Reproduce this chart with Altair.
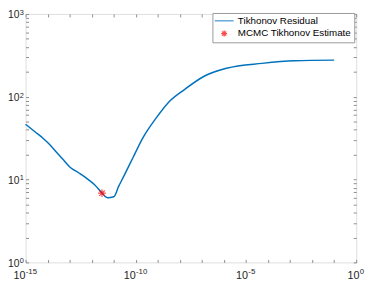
import altair as alt
import pandas as pd

# Tikhonov residual curve: log10(lambda) and residual
lam_exp = [-15.0, -14.575, -14.21, -13.92, -13.63, -13.33, -12.97, -12.60, -12.24,
           -11.87, -11.54, -11.29, -11.0, -10.78, -10.56, -10.12, -9.68, -9.09,
           -8.51, -7.78, -6.9, -5.88, -4.27, -2.81, -1.0]
residual = [46.6, 37.8, 31.6, 26.7, 21.9, 17.8, 14.0, 12.1, 10.4,
            8.67, 6.92, 6.05, 6.2, 8.28, 10.8, 18.6, 31.9, 54.8,
            86.0, 123.0, 177.0, 221.0, 253.0, 272.0, 277.0]

# MCMC Tikhonov estimate
est_exp = [-11.535]
est_res = [6.85]

series = ["Tikhonov Residual", "MCMC Tikhonov Estimate"]
colors = ["#0072BD", "#FF0000"]

x_tick_exp = list(range(-15, 1))
x_label_exp = [-15, -10, -5, 0]
y_tick_vals = [m * 10.0 ** k for k in range(0, 3) for m in range(1, 10)] + [1000.0]
y_label_exp = [0, 1, 2, 3]

LEFT, TOP = 26, 11          # plot origin inside the page
W, H = 364 - LEFT, 265 - TOP

curve = pd.DataFrame({"lam": [10.0 ** e for e in lam_exp], "res": residual, "series": series[0]})
est = pd.DataFrame({"lam": [10.0 ** e for e in est_exp], "res": est_res, "series": series[1]})

line_sym = "M-3.2,0L3.2,0"
asterisk = "M-1,0L1,0M0,-1L0,1M-0.7,-0.7L0.7,0.7M-0.7,0.7L0.7,-0.7"

xs = alt.Scale(type="log", domain=[1e-15, 1], nice=False)
ys = alt.Scale(type="log", domain=[1, 1000], nice=False)

legend = alt.Legend(title=None, orient="none", legendX=217 - LEFT, legendY=10 - TOP,
                    fillColor="white", strokeColor="#9a9a9a", padding=3,
                    labelFont="Liberation Sans", labelFontSize=10, labelColor="#000000",
                    symbolSize=36, symbolStrokeWidth=1.3, symbolOffset=4,
                    labelOffset=9, rowPadding=2)
color = alt.Color("series:N", scale=alt.Scale(domain=series, range=colors), legend=legend)
shape = alt.Shape("series:N", scale=alt.Scale(domain=series, range=[line_sym, asterisk]),
                  legend=legend)

tick_axis = dict(tickSize=3, offset=-3, domain=False, tickColor="#8a8a8a", tickWidth=1,
                 grid=False, labels=False, title=None)

xb = alt.Axis(orient="bottom", values=[10.0 ** k for k in x_tick_exp], **tick_axis)
xt = alt.Axis(orient="top", values=[10.0 ** k for k in x_tick_exp], **tick_axis)
yl = alt.Axis(orient="left", values=y_tick_vals, **tick_axis)
yr = alt.Axis(orient="right", values=y_tick_vals, **tick_axis)

line = alt.Chart(curve).mark_line(strokeWidth=1.5, interpolate="monotone").encode(
    x=alt.X("lam:Q", scale=xs, axis=xb),
    y=alt.Y("res:Q", scale=ys, axis=yl),
    color=color,
)
pts = alt.Chart(est).mark_point(size=64, filled=False, strokeWidth=1.2).encode(
    x=alt.X("lam:Q", scale=xs, axis=xt),
    y=alt.Y("res:Q", scale=ys, axis=yr),
    color=color,
    shape=shape,
)

font = "Liberation Sans"
lab_color = "#262626"
layers = [line, pts]

# x tick labels: "10" with a raised exponent, centred on the tick
for e in x_label_exp:
    exp_txt = str(e)
    w_exp = sum(2.7 if c == "-" else 4.4 for c in exp_txt)
    shift = (12.2 - w_exp) / 2 - 0.5
    df = pd.DataFrame({"v": [10.0 ** e], "base": ["10"], "exp": [exp_txt]})
    base = alt.Chart(df).mark_text(font=font, fontSize=11, color=lab_color, align="right",
                                   baseline="alphabetic", dx=shift, dy=17).encode(
        x=alt.X("v:Q", scale=xs, axis=None), y=alt.value(H), text="base:N")
    sup = alt.Chart(df).mark_text(font=font, fontSize=8, color=lab_color, align="left",
                                  baseline="alphabetic", dx=shift + 0.3, dy=12).encode(
        x=alt.X("v:Q", scale=xs, axis=None), y=alt.value(H), text="exp:N")
    layers += [base, sup]

# y tick labels
ydf = pd.DataFrame({"v": [10.0 ** e for e in y_label_exp],
                    "base": ["10"] * len(y_label_exp),
                    "exp": [str(e) for e in y_label_exp]})
ybase = alt.Chart(ydf).mark_text(font=font, fontSize=10.5, color=lab_color, align="right",
                                 baseline="alphabetic", dy=4.5).encode(
    x=alt.value(-6.3), y=alt.Y("v:Q", scale=ys, axis=None), text="base:N")
ysup = alt.Chart(ydf).mark_text(font=font, fontSize=7.5, color=lab_color, align="left",
                                baseline="alphabetic", dy=0.8).encode(
    x=alt.value(-6.1), y=alt.Y("v:Q", scale=ys, axis=None), text="exp:N")
layers += [ybase, ysup]

chart = alt.layer(*layers).resolve_axis(x="independent", y="independent").properties(
    width=W, height=H,
    autosize=alt.AutoSizeParams(type="none"),
    padding={"left": LEFT - 8, "top": TOP - 8, "right": 10, "bottom": 20},
).configure_view(stroke="#9a9a9a", strokeWidth=1).configure(background="white")

chart.save("out.html", embed_options={"renderer": "svg", "actions": False})
